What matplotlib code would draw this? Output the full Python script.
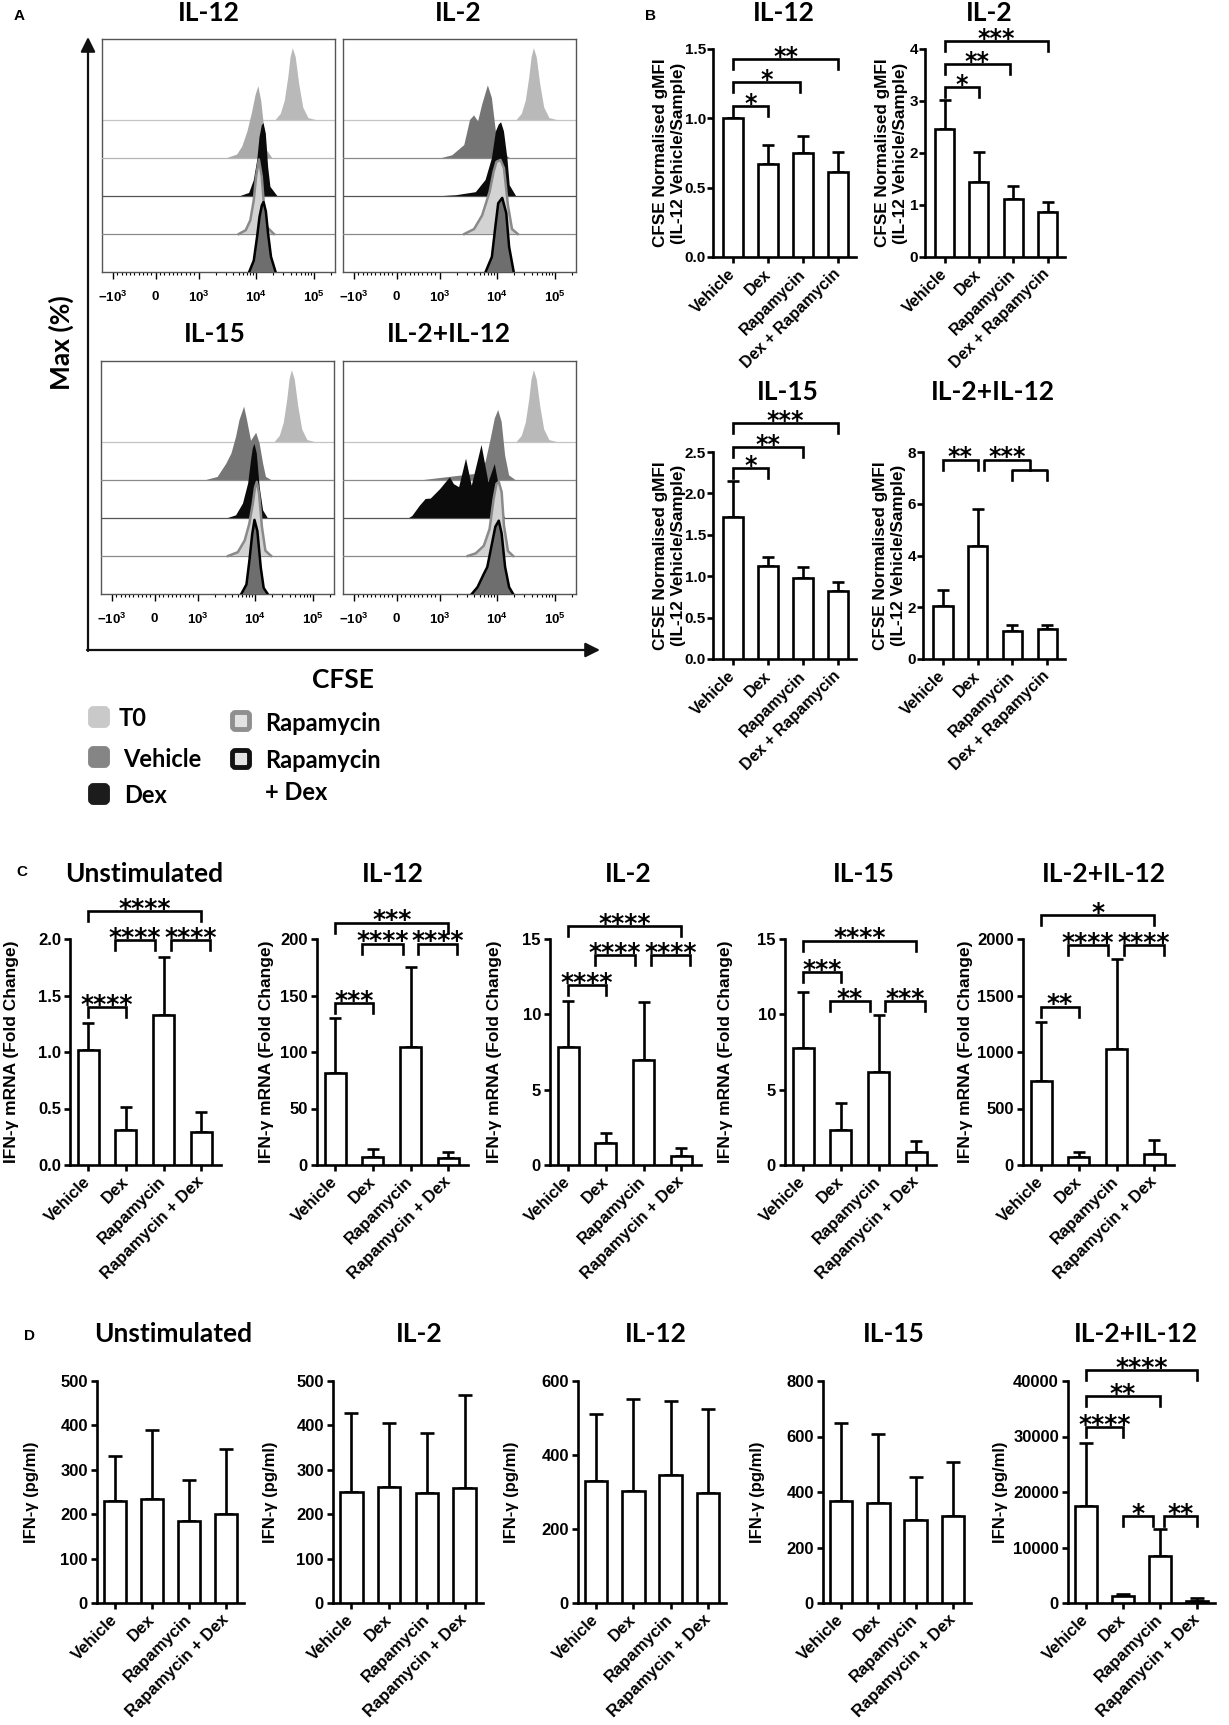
import numpy as np
import matplotlib.pyplot as plt
from matplotlib.patches import FancyBboxPatch

plt.rcParams['font.family'] = ['Liberation Sans', 'DejaVu Sans']
plt.rcParams['font.weight'] = 'bold'
plt.rcParams['mathtext.fontset'] = 'custom'
plt.rcParams['mathtext.rm'] = 'Liberation Sans:bold'
plt.rcParams['mathtext.default'] = 'rm'

W, H = 1229, 1725
TITLE_FONT = 'Lato'

# ---------------- panel A: CFSE histograms (log10 position, height in row units) ----------------
T0 = [(4.34, 0), (4.43, 0.16), (4.50, 0.51), (4.56, 1.12), (4.60, 1.65), (4.64, 1.89),
      (4.69, 1.65), (4.75, 0.95), (4.82, 0.33), (4.91, 0.05), (5.04, 0)]

IL12_VEH = [(3.50, 0), (3.67, 0.09), (3.76, 0.30), (3.85, 0.70), (3.93, 1.20), (3.99, 1.65),
            (4.04, 1.89), (4.09, 1.50), (4.14, 0.80), (4.19, 0.20), (4.28, 0)]
IL12_DEX = [(3.73, 0), (3.88, 0.08), (3.96, 0.41), (4.02, 0.94), (4.06, 1.55), (4.10, 1.86),
            (4.13, 1.92), (4.17, 1.64), (4.21, 0.76), (4.25, 0.24), (4.37, 0)]
IL12_RAP = [(3.70, 0), (3.82, 0.10), (3.90, 0.36), (3.96, 0.89), (4.00, 1.50), (4.05, 1.96),
            (4.10, 1.50), (4.14, 0.71), (4.19, 0.18), (4.31, 0)]
IL12_RD = [(3.88, 0), (3.96, 0.30), (4.02, 0.95), (4.06, 1.45), (4.10, 1.75), (4.13, 1.84),
           (4.17, 1.60), (4.21, 1.00), (4.26, 0.40), (4.34, 0)]

IL2_VEH = [(3.04, 0), (3.22, 0.07), (3.43, 0.34), (3.53, 1.00), (3.60, 1.12), (3.67, 0.96),
           (3.74, 1.40), (3.84, 1.91), (3.91, 1.58), (3.98, 0.69), (4.06, 0.16), (4.22, 0)]
IL2_DEX = [(3.06, 0), (3.29, 0.02), (3.63, 0.10), (3.80, 0.42), (3.91, 0.99), (3.98, 1.70),
           (4.03, 1.88), (4.07, 1.94), (4.12, 1.70), (4.18, 0.99), (4.22, 0.28), (4.33, 0)]
IL2_RAP = [(3.43, 0), (3.60, 0.13), (3.74, 0.49), (3.87, 1.11), (3.94, 1.64), (3.99, 1.90),
           (4.06, 1.95), (4.12, 1.73), (4.19, 0.75), (4.26, 0.13), (4.36, 0)]
IL2_RD = [(3.80, 0), (3.91, 0.40), (3.97, 1.19), (4.02, 1.81), (4.09, 1.95), (4.16, 1.55),
          (4.21, 0.66), (4.29, 0)]

IL15_VEH = [(3.15, 0), (3.35, 0.08), (3.50, 0.43), (3.59, 0.70), (3.67, 1.14), (3.73, 1.58),
            (3.81, 1.93), (3.86, 1.58), (3.93, 1.03), (3.98, 1.15), (4.02, 1.24), (4.08, 0.96),
            (4.14, 0.43), (4.19, 0.08), (4.28, 0)]
IL15_DEX = [(3.53, 0), (3.67, 0.07), (3.79, 0.38), (3.88, 0.91), (3.93, 1.52), (3.96, 1.83),
            (3.99, 1.95), (4.03, 1.70), (4.08, 0.82), (4.14, 0.20), (4.22, 0)]
IL15_RAP = [(3.53, 0), (3.70, 0.10), (3.82, 0.41), (3.90, 0.85), (3.96, 1.37), (4.00, 1.81),
            (4.03, 1.95), (4.07, 1.64), (4.12, 0.76), (4.18, 0.14), (4.28, 0)]
IL15_RD = [(3.76, 0), (3.85, 0.25), (3.90, 0.86), (3.95, 1.57), (3.99, 1.95), (4.04, 1.66),
           (4.10, 0.69), (4.15, 0.16), (4.22, 0)]

IL212_VEH = [(2.80, 0), (3.28, 0.10), (3.63, 0.16), (3.80, 0.47), (3.89, 1.09), (3.96, 1.62),
             (4.02, 1.84), (4.08, 1.53), (4.14, 0.65), (4.21, 0.12), (4.32, 0)]
IL212_DEX = [(2.46, 0), (2.56, 0.05), (2.73, 0.32), (2.83, 0.50), (2.90, 0.51), (3.01, 0.76),
             (3.18, 1.07), (3.25, 0.89), (3.34, 0.81), (3.46, 1.56), (3.56, 0.85), (3.73, 1.92),
             (3.85, 0.94), (3.96, 1.42), (4.03, 0.85), (4.08, 0.14), (4.14, 0)]
IL212_RAP = [(3.49, 0), (3.63, 0.07), (3.77, 0.27), (3.87, 0.71), (3.94, 1.50), (3.99, 1.90),
             (4.03, 1.95), (4.08, 1.68), (4.12, 0.80), (4.19, 0.13), (4.28, 0)]
IL212_RD = [(3.56, 0), (3.66, 0.18), (3.77, 0.53), (3.83, 0.71), (3.90, 1.24), (3.97, 1.77),
            (4.03, 1.93), (4.08, 1.59), (4.14, 0.71), (4.21, 0.18), (4.28, 0)]

HIST_TITLES = ['IL-12', 'IL-2', 'IL-15', 'IL-2+IL-12']
HIST_TICKS = [-1e3, 0, 1e3, 1e4, 1e5]
HIST_TICKLABELS = [r'$-10^{3}$', r'$0$', r'$10^{3}$', r'$10^{4}$', r'$10^{5}$']

# ---------------- panel B: CFSE normalised gMFI ----------------
B_GROUPS = ['Vehicle', 'Dex', 'Rapamycin', 'Dex + Rapamycin']
B_IL12_MEAN = [1.00, 0.67, 0.75, 0.61]
B_IL12_UPPER = [1.00, 0.81, 0.87, 0.76]
B_IL2_MEAN = [2.46, 1.44, 1.11, 0.86]
B_IL2_UPPER = [3.01, 2.02, 1.36, 1.05]
B_IL15_MEAN = [1.72, 1.12, 0.98, 0.82]
B_IL15_UPPER = [2.15, 1.23, 1.11, 0.93]
B_IL212_MEAN = [2.03, 4.37, 1.08, 1.16]
B_IL212_UPPER = [2.65, 5.81, 1.30, 1.33]

B_IL12_SIG = [(0, 1, 1.09, '*'), (0, 1.9, 1.26, '*'), (0, 3, 1.43, '**')]
B_IL2_SIG = [(0, 1, 3.27, '*'), (0, 1.9, 3.71, '**'), (0, 3, 4.16, '***')]
B_IL15_SIG = [(0, 1, 2.31, '*'), (0, 2, 2.56, '**'), (0, 3, 2.85, '***')]
B_IL212_SIG = [(0, 1, 7.71, '**')]

# ---------------- panel C: IFN-g mRNA ----------------
CD_GROUPS = ['Vehicle', 'Dex', 'Rapamycin', 'Rapamycin + Dex']
C_UNSTIM_MEAN = [1.02, 0.31, 1.33, 0.29]
C_UNSTIM_UPPER = [1.26, 0.51, 1.84, 0.47]
C_IL12_MEAN = [81, 7.4, 104, 5.9]
C_IL12_UPPER = [130, 14.5, 175, 11.2]
C_IL2_MEAN = [7.8, 1.45, 7.0, 0.6]
C_IL2_UPPER = [10.9, 2.1, 10.8, 1.1]
C_IL15_MEAN = [7.75, 2.3, 6.2, 0.87]
C_IL15_UPPER = [11.5, 4.1, 9.95, 1.6]
C_IL212_MEAN = [744, 68, 1028, 98]
C_IL212_UPPER = [1268, 113, 1823, 222]

C_UNSTIM_SIG = [(0, 1, 1.40, '****'), (0.7, 1.78, 1.99, '****'), (2.2, 3.22, 1.99, '****'), (0, 3, 2.25, '****')]
C_IL12_SIG = [(0, 1, 143.5, '***'), (0.7, 1.8, 196, '****'), (2.2, 3.24, 196, '****'), (0, 3, 214.5, '***')]
C_IL2_SIG = [(0, 1, 11.94, '****'), (0.7, 1.78, 13.93, '****'), (2.2, 3.22, 13.93, '****'), (0, 3, 15.84, '****')]
C_IL15_SIG = [(0, 3, 14.9, '****'), (0, 1, 12.78, '***'), (0.7, 1.77, 10.87, '**'), (2.17, 3.24, 10.87, '***')]
C_IL212_SIG = [(0, 1, 1402, '**'), (0.7, 1.78, 1950, '****'), (2.2, 3.25, 1950, '****'), (0, 3, 2211, '*')]

# ---------------- panel D: IFN-g protein ----------------
D_UNSTIM_MEAN = [229, 234, 184, 200]
D_UNSTIM_UPPER = [331, 390, 276, 347]
D_IL2_MEAN = [250, 262, 247, 259]
D_IL2_UPPER = [427, 405, 382, 468]
D_IL12_MEAN = [331, 304, 347, 297]
D_IL12_UPPER = [512, 551, 546, 525]
D_IL15_MEAN = [367, 362, 298, 315]
D_IL15_UPPER = [647, 609, 455, 507]
D_IL212_MEAN = [17440, 1260, 8420, 360]
D_IL212_UPPER = [28870, 1680, 13350, 960]

D_IL212_SIG = [(0, 1, 31760, '****'), (0, 2, 37290, '**'), (0, 3, 41985, '****'),
               (1, 1.8, 15640, '*'), (2.12, 3, 15640, '**')]

fig = plt.figure(figsize=(W / 100, H / 100), dpi=100)


def px_axes(left, top, width, height):
    return fig.add_axes([left / W, 1 - (top + height) / H, width / W, height / H])


# ---------- histograms ----------
XMIN, XMAX = -1550, 2.36e5
VEH_COLORS = ['#aaaaaa', '#757575', '#767676', '#7a7a7a']
HIST_DATA = [
    [T0, IL12_VEH, IL12_DEX, IL12_RAP, IL12_RD],
    [T0, IL2_VEH, IL2_DEX, IL2_RAP, IL2_RD],
    [T0, IL15_VEH, IL15_DEX, IL15_RAP, IL15_RD],
    [T0, IL212_VEH, IL212_DEX, IL212_RAP, IL212_RD],
]
HIST_BOXES = [(102, 39), (343, 39), (101, 361), (343, 361)]

for k, curves in enumerate(HIST_DATA):
    ax = px_axes(HIST_BOXES[k][0], HIST_BOXES[k][1], 233, 233)
    ax.set_xscale('symlog', linthresh=1000, linscale=0.67)
    ax.set_xlim(XMIN, XMAX)
    ax.set_ylim(0, 6.13)
    styles = [
        ('#b9b9b9', '#c4c4c4', 0),
        (VEH_COLORS[k], '#b5b5b5' if k == 0 else '#8a8a8a', 0),
        ('#0b0b0b', '#555555', 0),
        ('#d3d3d3', '#8a8a8a', 1.8),
        ('#6e6e6e', '#000000', 1.8),
    ]
    for row, pts in enumerate(curves):
        base = 4 - row
        fill, edge, lw = styles[row]
        L = np.array([p[0] for p in pts])
        h = np.array([p[1] for p in pts])
        x = 10 ** L
        if row < 4:
            ax.plot([XMIN, XMAX], [base, base], color=edge, lw=0.9, zorder=1 + 2 * row)
        ax.fill_between(x, base, base + h, facecolor=fill, edgecolor='none', zorder=2 + 2 * row)
        if lw:
            ax.plot(x, base + h, color=edge, lw=lw, zorder=2 + 2 * row)
    ax.set_yticks([])
    ax.set_xticks(HIST_TICKS)
    ax.set_xticklabels(HIST_TICKLABELS, fontsize=9.5)
    minors = [v for v in range(-900, 1000, 100) if v != 0]
    minors += [m * 10 ** e for e in (3, 4) for m in range(2, 10)] + [2e5]
    ax.set_xticks(minors, minor=True)
    ax.tick_params(axis='x', which='major', length=5, width=1, pad=8, direction='out')
    ax.tick_params(axis='x', which='minor', length=2.5, width=0.8, direction='out')
    for s in ax.spines.values():
        s.set_color('#555555')
        s.set_linewidth(1)

# ---------- bar panels ----------


def bracket(ax, x1, x2, y, txt, leg, fs):
    ax.plot([x1, x1, x2, x2], [y - leg, y, y, y - leg], color='k', lw=1.9, clip_on=False,
            solid_joinstyle='miter', zorder=5)
    ax.annotate(txt, xy=((x1 + x2) / 2, y), xytext=(0, -3.5), textcoords='offset points',
                ha='center', va='baseline', fontsize=fs, fontweight='bold',
                family='DejaVu Sans', annotation_clip=False)


def bar_panel(left, top, width, height, means, uppers, yticks, yticklabels, ylabel,
              groups, xlim, bw, tick_fs, ylab_fs, ylab_right, xlab_fs,
              star_fs, sigs, capsize, tick_pad=2, ylab_ls=1.15):
    ax = px_axes(left, top, width, height)
    x = np.arange(len(means))
    means = np.array(means, dtype=float)
    uppers = np.array(uppers, dtype=float)
    ax.errorbar(x, means, yerr=[np.zeros_like(means), uppers - means], fmt='none',
                ecolor='k', elinewidth=1.9, capsize=capsize, capthick=1.9, zorder=2)
    ax.bar(x, means, width=bw, facecolor='white', edgecolor='black', linewidth=1.9, zorder=3)
    ax.set_xlim(*xlim)
    ax.set_ylim(0, yticks[-1])
    ax.set_yticks(yticks)
    ax.set_yticklabels(yticklabels, fontsize=tick_fs, fontweight='bold')
    ax.set_xticks(x)
    ax.set_xticklabels(groups, fontsize=xlab_fs, fontweight='bold', rotation=45,
                       ha='right', va='center', rotation_mode='anchor')
    for s in ('top', 'right'):
        ax.spines[s].set_visible(False)
    for s in ('left', 'bottom'):
        ax.spines[s].set_linewidth(1.9)
    ax.tick_params(axis='both', length=4.5, width=1.9, direction='out')
    ax.tick_params(axis='x', pad=6)
    ax.tick_params(axis='y', pad=tick_pad)
    ax.set_ylabel(ylabel, fontsize=ylab_fs, fontweight='bold', linespacing=ylab_ls)
    ax.yaxis.set_label_coords((ylab_right - left) / width, 0.5)
    leg = yticks[-1] * 10.0 / height
    for x1, x2, y, txt in sigs:
        bracket(ax, x1, x2, y, txt, leg, star_fs)
    return ax


B_YLABEL = 'CFSE Normalised gMFI\n(IL-12 Vehicle/Sample)'
bkw = dict(groups=B_GROUPS, xlim=(-0.57, 3.51), bw=0.56, tick_fs=11, ylab_fs=12.3,
           xlab_fs=11.5, star_fs=17, capsize=4.3, tick_pad=0.5, ylab_ls=1.25)
bar_panel(713, 49, 143, 208, B_IL12_MEAN, B_IL12_UPPER, [0, 0.5, 1.0, 1.5],
          ['0.0', '0.5', '1.0', '1.5'], B_YLABEL, ylab_right=686, sigs=B_IL12_SIG, **bkw)
bar_panel(925, 49, 140, 208, B_IL2_MEAN, B_IL2_UPPER, [0, 1, 2, 3, 4],
          ['0', '1', '2', '3', '4'], B_YLABEL, ylab_right=908, sigs=B_IL2_SIG, **bkw)
bar_panel(713, 452, 143, 207, B_IL15_MEAN, B_IL15_UPPER, [0, 0.5, 1.0, 1.5, 2.0, 2.5],
          ['0.0', '0.5', '1.0', '1.5', '2.0', '2.5'], B_YLABEL, ylab_right=686,
          sigs=B_IL15_SIG, **bkw)
ax = bar_panel(923, 452, 142, 207, B_IL212_MEAN, B_IL212_UPPER, [0, 2, 4, 6, 8],
               ['0', '2', '4', '6', '8'], B_YLABEL, ylab_right=906, sigs=B_IL212_SIG, **bkw)
# grouped bracket Dex vs (Rapamycin, Dex + Rapamycin)
ax.plot([1.19, 1.19, 2.5, 2.5], [7.31, 7.71, 7.71, 7.31], color='k', lw=1.9, clip_on=False)
ax.plot([2, 2, 3, 3], [6.93, 7.31, 7.31, 6.93], color='k', lw=1.9, clip_on=False)
ax.annotate('***', xy=(1.85, 7.71), xytext=(0, -3.5), textcoords='offset points',
            ha='center', va='baseline', fontsize=17, fontweight='bold', family='DejaVu Sans',
            annotation_clip=False)

C_YLABEL = 'IFN-\u03b3 mRNA (Fold Change)'
ckw = dict(groups=CD_GROUPS, xlim=(-0.48, 3.52), bw=0.56, tick_fs=12, ylab_fs=12.5,
           xlab_fs=12, star_fs=18, capsize=4.5)
C_LEFTS = [70, 317, 550, 785, 1023]
C_YLAB_RIGHT = [19, 274, 502, 733, 973]
bar_panel(C_LEFTS[0], 939, 151, 226, C_UNSTIM_MEAN, C_UNSTIM_UPPER, [0, 0.5, 1.0, 1.5, 2.0],
          ['0.0', '0.5', '1.0', '1.5', '2.0'], C_YLABEL, ylab_right=C_YLAB_RIGHT[0],
          sigs=C_UNSTIM_SIG, **ckw)
bar_panel(C_LEFTS[1], 939, 151, 226, C_IL12_MEAN, C_IL12_UPPER, [0, 50, 100, 150, 200],
          ['0', '50', '100', '150', '200'], C_YLABEL, ylab_right=C_YLAB_RIGHT[1],
          sigs=C_IL12_SIG, **ckw)
bar_panel(C_LEFTS[2], 939, 151, 226, C_IL2_MEAN, C_IL2_UPPER, [0, 5, 10, 15],
          ['0', '5', '10', '15'], C_YLABEL, ylab_right=C_YLAB_RIGHT[2], sigs=C_IL2_SIG, **ckw)
bar_panel(C_LEFTS[3], 939, 151, 226, C_IL15_MEAN, C_IL15_UPPER, [0, 5, 10, 15],
          ['0', '5', '10', '15'], C_YLABEL, ylab_right=C_YLAB_RIGHT[3], sigs=C_IL15_SIG, **ckw)
bar_panel(C_LEFTS[4], 939, 151, 226, C_IL212_MEAN, C_IL212_UPPER, [0, 500, 1000, 1500, 2000],
          ['0', '500', '1000', '1500', '2000'], C_YLABEL, ylab_right=C_YLAB_RIGHT[4],
          sigs=C_IL212_SIG, **ckw)

D_YLABEL = 'IFN-\u03b3 (pg/ml)'
dkw = dict(groups=CD_GROUPS, xlim=(-0.49, 3.49), bw=0.6, tick_fs=12, ylab_fs=12,
           xlab_fs=12, star_fs=18, capsize=5)
D_LEFTS = [97, 333, 578, 823, 1068]
bar_panel(D_LEFTS[0], 1381, 147, 222, D_UNSTIM_MEAN, D_UNSTIM_UPPER, [0, 100, 200, 300, 400, 500],
          ['0', '100', '200', '300', '400', '500'], D_YLABEL, ylab_right=D_LEFTS[0] - 58,
          sigs=[], **dkw)
bar_panel(D_LEFTS[1], 1381, 150, 222, D_IL2_MEAN, D_IL2_UPPER, [0, 100, 200, 300, 400, 500],
          ['0', '100', '200', '300', '400', '500'], D_YLABEL, ylab_right=D_LEFTS[1] - 55,
          sigs=[], **dkw)
bar_panel(D_LEFTS[2], 1381, 148, 222, D_IL12_MEAN, D_IL12_UPPER, [0, 200, 400, 600],
          ['0', '200', '400', '600'], D_YLABEL, ylab_right=D_LEFTS[2] - 59, sigs=[], **dkw)
bar_panel(D_LEFTS[3], 1381, 148, 222, D_IL15_MEAN, D_IL15_UPPER, [0, 200, 400, 600, 800],
          ['0', '200', '400', '600', '800'], D_YLABEL, ylab_right=D_LEFTS[3] - 58, sigs=[], **dkw)
bar_panel(D_LEFTS[4], 1381, 147, 222, D_IL212_MEAN, D_IL212_UPPER,
          [0, 10000, 20000, 30000, 40000], ['0', '10000', '20000', '30000', '40000'],
          D_YLABEL, ylab_right=D_LEFTS[4] - 60, sigs=D_IL212_SIG, **dkw)

# ---------- overlay: titles, arrows, legend ----------
ov = fig.add_axes([0, 0, 1, 1])
ov.set_xlim(0, W)
ov.set_ylim(H, 0)
ov.axis('off')
ov.patch.set_alpha(0)


def title(x, y, s, fs=19):
    ov.text(x, y, s, ha='center', va='baseline', fontsize=fs, fontweight='bold',
            family=TITLE_FONT)


for (tx, ty), s in zip([(209, 21), (458, 21), (215, 342), (449, 342)], HIST_TITLES):
    title(tx, ty, s)
for (tx, ty), s in zip([(784, 21), (989, 21), (788, 400), (993, 400)], HIST_TITLES):
    title(tx, ty, s)
C_TITLES = ['Unstimulated', 'IL-12', 'IL-2', 'IL-15', 'IL-2+IL-12']
for tx, s in zip([144, 393, 628, 864, 1104], C_TITLES):
    title(tx, 882, s)
D_TITLES = ['Unstimulated', 'IL-2', 'IL-12', 'IL-15', 'IL-2+IL-12']
for tx, s in zip([173, 419, 656, 894, 1136], D_TITLES):
    title(tx, 1342, s)

for (lx, ly), s in zip([(14, 20), (645, 20), (16, 876), (24, 1340)], 'ABCD'):
    ov.text(lx, ly, s, ha='left', va='baseline', fontsize=11, fontweight='bold')

ov.annotate('', xy=(88, 37), xytext=(88, 651),
            arrowprops=dict(arrowstyle='-|>', lw=1.6, color='#111111', mutation_scale=22,
                            shrinkA=0, shrinkB=0))
ov.annotate('', xy=(600, 650), xytext=(87, 650),
            arrowprops=dict(arrowstyle='-|>', lw=1.6, color='#111111', mutation_scale=22,
                            shrinkA=0, shrinkB=0))
ov.text(61, 343, 'Max (%)', rotation=90, ha='center', va='center', fontsize=19,
        fontweight='bold', family=TITLE_FONT)
ov.text(343, 688, 'CFSE', ha='center', va='baseline', fontsize=19, fontweight='bold',
        family=TITLE_FONT)

LEGEND_LABELS = ['T0', 'Vehicle', 'Dex', 'Rapamycin', 'Rapamycin']
legend_items = [
    (88, 706, '#c9c9c9', '#c9c9c9', 119, 726),
    (88, 746, '#858585', '#858585', 123, 767),
    (88, 783, '#1c1c1c', '#1c1c1c', 124, 803),
    (230, 710, '#e2e2e2', '#8f8f8f', 265, 731),
    (230, 748, '#e2e2e2', '#111111', 265, 768),
]
for (sx, sy, fc, ec, tx, ty), lab in zip(legend_items, LEGEND_LABELS):
    ov.add_patch(FancyBboxPatch((sx + 2.5, sy + 2.5), 17, 17,
                                boxstyle='round,pad=0,rounding_size=3',
                                facecolor=fc, edgecolor=ec, lw=3.5))
    ov.text(tx, ty, lab, ha='left', va='baseline', fontsize=17, fontweight='bold',
            family=TITLE_FONT)
ov.text(265, 800, '+ Dex', ha='left', va='baseline', fontsize=17, fontweight='bold',
        family=TITLE_FONT)

fig.savefig('out.png', dpi=100)
